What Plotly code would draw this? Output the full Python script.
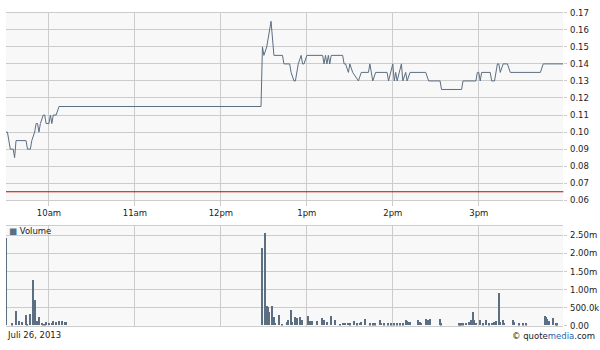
import pandas as pd
import plotly.graph_objects as go

session_date = "2013-07-26"
session_open = "09:30"

# price: minutes after 09:30, price
price_minutes = [0, 1, 3, 5, 6, 7, 14, 15, 17, 18, 20, 21, 22, 23, 24, 26, 27, 28, 30, 31, 32, 33, 35, 37,
                 178, 179, 180, 182, 185, 187, 193, 194, 198, 199, 201, 202, 204, 206, 207, 208, 210,
                 221, 222, 223, 224, 225, 226, 227, 235, 236, 237, 239, 240, 242, 246, 248, 253, 254,
                 256, 258, 266, 267, 270, 271, 272, 273, 276, 277, 279, 280, 282, 293, 295, 303, 304,
                 318, 319, 328, 329, 330, 331, 332, 338, 339, 341, 343, 344, 345, 347, 350, 352, 373,
                 375, 389]
price_values = [0.10, 0.10, 0.09, 0.09, 0.085, 0.095, 0.095, 0.09, 0.09, 0.095, 0.10, 0.105, 0.105, 0.10,
                0.105, 0.11, 0.11, 0.105, 0.105, 0.11, 0.105, 0.11, 0.11, 0.115,
                0.115, 0.15, 0.145, 0.15, 0.165, 0.145, 0.145, 0.14, 0.14, 0.135, 0.13, 0.13, 0.14, 0.145,
                0.14, 0.14, 0.145,
                0.145, 0.14, 0.145, 0.14, 0.145, 0.14, 0.145, 0.145, 0.14, 0.14, 0.135, 0.14, 0.135, 0.13,
                0.135, 0.135, 0.14,
                0.13, 0.135, 0.135, 0.13, 0.14, 0.13, 0.135, 0.13, 0.14, 0.13, 0.135, 0.13, 0.135, 0.135,
                0.13, 0.13, 0.125,
                0.125, 0.13, 0.13, 0.135, 0.135, 0.13, 0.135, 0.135, 0.13, 0.13, 0.14, 0.14, 0.135, 0.14,
                0.14, 0.135, 0.135,
                0.14, 0.14]
prev_close = 0.065

vol_minutes = [0, 4, 7, 9, 11, 14, 15, 17, 19, 20, 22, 23, 25, 26, 27, 28, 30, 32, 33, 35, 37, 39, 41, 42,
               179, 181, 182, 183, 184, 186, 187, 188, 191, 193, 196, 197, 199, 200, 202, 203, 205, 207,
               211, 212, 214, 217, 221, 222, 224, 227, 230, 233, 235, 236, 237, 239, 240, 243, 245, 247,
               248, 251, 254, 256, 258, 261, 262, 264, 267, 269, 271, 273, 275, 277, 279, 280, 281, 282,
               288, 289, 290, 293, 295, 296, 303, 304, 316, 317, 318, 319, 321, 323, 325, 326, 327, 328,
               331, 333, 335, 337, 339, 340, 341, 342, 344, 345, 347, 348, 354, 355, 358, 361, 363, 376,
               377, 378, 379, 382, 384, 385]
vol_values = [2420000, 45000, 400000, 100000, 80000, 270000, 40000, 300000, 1240000, 700000, 100000, 220000,
              60000, 40000, 40000, 80000, 60000, 60000, 100000, 80000, 100000, 100000, 80000, 80000,
              2150000, 2550000, 540000, 510000, 360000, 540000, 220000, 60000, 270000, 30000, 80000, 130000,
              430000, 80000, 220000, 200000, 220000, 130000,
              240000, 100000, 100000, 110000, 200000, 130000, 80000, 240000, 130000, 30000, 63000, 70000,
              70000, 70000, 45000, 108000, 45000, 70000,
              90000, 160000, 45000, 45000, 45000, 135000, 63000, 45000, 45000, 45000, 45000, 45000, 45000,
              45000, 150000, 115000, 90000, 90000,
              135000, 80000, 63000, 180000, 135000, 180000, 180000, 45000, 45000, 45000, 45000, 45000,
              63000, 90000, 135000, 350000, 135000, 63000,
              150000, 45000, 150000, 45000, 70000, 70000, 90000, 108000, 880000, 90000, 150000, 63000,
              150000, 90000, 45000, 45000, 45000, 240000,
              225000, 180000, 115000, 205000, 45000, 45000]

hour_ticks = ["10:00", "11:00", "12:00", "13:00", "14:00", "15:00"]
hour_labels = ["10am", "11am", "12pm", "1pm", "2pm", "3pm"]
price_ticks = [0.06, 0.07, 0.08, 0.09, 0.10, 0.11, 0.12, 0.13, 0.14, 0.15, 0.16, 0.17]
vol_ticks = [0, 500000, 1000000, 1500000, 2000000, 2500000]
vol_labels = ["0.00", "500.0k", "1.00m", "1.50m", "2.00m", "2.50m"]
date_label = "Juli 26, 2013"

base = pd.Timestamp(f"{session_date} {session_open}")
px_time = [base + pd.Timedelta(minutes=m) for m in price_minutes]
vx_time = [base + pd.Timedelta(minutes=m) for m in vol_minutes]
tick_times = [pd.Timestamp(f"{session_date} {t}") for t in hour_ticks]
x_range = [base, base + pd.Timedelta(minutes=389)]

LINE = "#5b6e82"
GRID = "#cccccc"
FONT = dict(family="DejaVu Sans", size=8.5, color="#222222")

fig = go.Figure()
fig.add_trace(go.Scatter(x=px_time, y=price_values, mode="lines",
                         line=dict(color=LINE, width=1), xaxis="x", yaxis="y",
                         showlegend=False, hoverinfo="skip"))
fig.add_trace(go.Bar(x=vx_time, y=vol_values, width=55000, marker=dict(color=LINE, line=dict(width=0)),
                     xaxis="x2", yaxis="y2", showlegend=False, hoverinfo="skip"))
fig.add_shape(type="line", xref="x domain", yref="y", x0=0, x1=1, y0=prev_close, y1=prev_close,
              line=dict(color="#cc0000", width=1.2), layer="above")

W, H = 600, 350
xdom = [6 / W, 563.3 / W]
fig.update_layout(
    width=W, height=H, margin=dict(l=0, r=0, t=0, b=0),
    paper_bgcolor="white", plot_bgcolor="#f8f8f8", font=FONT, bargap=0,
    xaxis=dict(domain=xdom, anchor="y", type="date", range=x_range, tickvals=tick_times,
               ticktext=hour_labels, showgrid=True, gridcolor=GRID, gridwidth=1,
               ticks="outside", ticklen=5, tickcolor=GRID, showline=True, mirror=True,
               linecolor=GRID, linewidth=1, zeroline=False, tickfont=FONT),
    yaxis=dict(domain=[1 - 201 / H, 1 - 8 / H], anchor="x", side="right", range=[0.06, 0.17],
               tickvals=price_ticks, tickformat=".2f", showgrid=True, gridcolor=GRID,
               ticks="outside", ticklen=3, tickcolor=GRID, zeroline=False, tickfont=FONT,
               ticklabelstandoff=1),
    xaxis2=dict(domain=xdom, anchor="y2", type="date", range=x_range, tickvals=tick_times,
                showticklabels=False, showgrid=True, gridcolor=GRID, ticks="", showline=True,
                mirror=True, linecolor=GRID, zeroline=False),
    yaxis2=dict(domain=[1 - 330 / H, 1 - 228 / H], anchor="x2", side="right", range=[0, 2750000],
                tickvals=vol_ticks, ticktext=vol_labels, showgrid=True, gridcolor=GRID,
                ticks="outside", ticklen=3, tickcolor=GRID, zeroline=False, tickfont=FONT,
                ticklabelstandoff=1),
    annotations=[
        dict(text=f"<span style='color:{LINE}'>■</span> Volume", x=7 / W, y=1 - 233 / H,
             xref="paper", yref="paper", xanchor="left", yanchor="middle", showarrow=False, font=FONT),
        dict(text=date_label, x=5 / W, y=1 - 340 / H, xref="paper", yref="paper", xanchor="left",
             yanchor="middle", showarrow=False, font=FONT),
        dict(text="© quote<span style='color:#2a64b0'>media</span>.com", x=597 / W, y=1 - 341 / H,
             xref="paper", yref="paper", xanchor="right", yanchor="middle", showarrow=False, font=FONT),
    ],
)

fig.write_html("out.html")
